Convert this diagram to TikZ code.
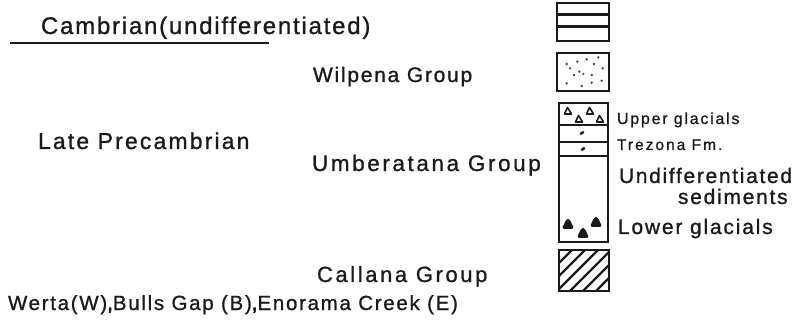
\documentclass[tikz,border=0pt]{standalone}
\usepackage{fontspec}
\setmainfont{Liberation Sans}
\newfontfamily\colfont[LetterSpace=9,FakeBold=1]{Liberation Sans}
\definecolor{ink}{HTML}{1A1A1A}
\tikzset{
  lab/.style={anchor=base west, inner sep=0pt, outer sep=0pt, text=ink},
  unitbox/.style={draw=ink, line width=2.8pt},
  divider/.style={draw=ink, line width=2.1pt},
  hatch/.style={draw=ink, line width=2.4pt},
  clast/.style={draw=ink, line width=1.6pt, line join=round},
  boulder/.style={fill=ink, draw=ink, line width=1pt, line join=round, rounded corners=1.5pt},
}
\newcommand{\fsz}[2]{\colfont\fontsize{#1}{#1}\selectfont\addfontfeatures{LetterSpace=#2}}
\begin{document}
\begin{tikzpicture}[x=1pt,y=-1pt]
\useasboundingbox (0,0) rectangle (803,320);

% ---- left-hand labels ----
\node[lab, font=\fsz{24}{7.4}] (camb) at (41,34) {Cambrian(undifferentiated)};
\draw[ink, line width=2.2pt] (10,43) -- (269,43);
\node[lab, font=\fsz{23}{9.3}] (late) at (38,149) {Late Precambrian};
\node[lab, font=\fsz{21}{8.3}] (wil) at (313,82) {Wilpena Group};
\node[lab, font=\fsz{22.5}{11.5}] (umb) at (312,171) {Umberatana Group};
\node[lab, font=\fsz{22}{11.8}] (cal) at (317,282) {Callana Group};
\node[lab, font=\fsz{20.5}{8.3}] (loc) at (8,310) {Werta(W){\addfontfeatures{FakeBold=3},}Bulls Gap (B){\addfontfeatures{FakeBold=3},}Enorama Creek (E)};

% ---- column: Cambrian ----
\draw[unitbox] (557,3) rectangle (609,41);
\draw[divider] (557,14.5) -- (609,14.5);
\draw[divider] (557,26.5) -- (609,26.5);

% ---- column: Wilpena Group (stippled) ----
\draw[unitbox] (557,53) rectangle (609,91);
\foreach \px/\py in {566.7/64,577.3/61.7,586.7/59.3,598.3/57.3,570/68.3,579.3/71.7,574/75,583.3/74,591.7/75,602.7/68.3,566.7/83.3,581.7/86,591.7/82.7,601.7/80.7,594/64}
  \fill[ink!80] (\px,\py) circle (1.3pt);

% ---- column: Umberatana Group ----
\draw[unitbox] (559,103) rectangle (608,242);
\draw[divider] (559,125) -- (608,125);
\draw[divider] (559,142) -- (608,142);
\draw[divider] (559,156) -- (608,156);
% upper glacials: open clasts
\foreach \cx/\cy in {568/111,579/119,590/111,600/119}
  \draw[clast] (\cx-3.5,\cy+3) -- (\cx-0.5,\cy-3.5) -- (\cx+3.5,\cy+3) -- cycle;
% Trezona Fm.: small pellets
\fill[ink, rotate around={35:(582,133)}] (582,133) ellipse (2.5pt and 1.4pt);
\fill[ink, rotate around={35:(583,149)}] (583,149) ellipse (2.5pt and 1.4pt);
% lower glacials: solid clasts
\foreach \cx/\cy in {568/224,583/233,596/222}
  \filldraw[boulder] (\cx-5.5,\cy+4.5) -- (\cx-1.2,\cy-4.5) -- (\cx+1.2,\cy-4.5) -- (\cx+5.5,\cy+4.5) -- cycle;

% ---- column: Callana Group (hatched) ----
\begin{scope}
  \clip (559,250) rectangle (609,291);
  \foreach \k in {-2,...,8}
    \draw[hatch] (559+13*\k-45,295) -- (559+13*\k+5,245);
\end{scope}
\draw[unitbox] (559,250) rectangle (609,291);

% ---- right-hand labels ----
\node[lab, font=\fsz{16}{11}] (upg) at (617,124) {Upper glacials};
\node[lab, font=\fsz{15.5}{13}] (trz) at (617,150) {Trezona Fm.};
\node[lab, font=\fsz{21}{8}] (und) at (619,183) {Undifferentiated};
\node[lab, font=\fsz{21}{8.3}] (sed) at (678,204) {sediments};
\node[lab, font=\fsz{21}{8.6}] (low) at (618,234) {Lower glacials};
\end{tikzpicture}
\end{document}
